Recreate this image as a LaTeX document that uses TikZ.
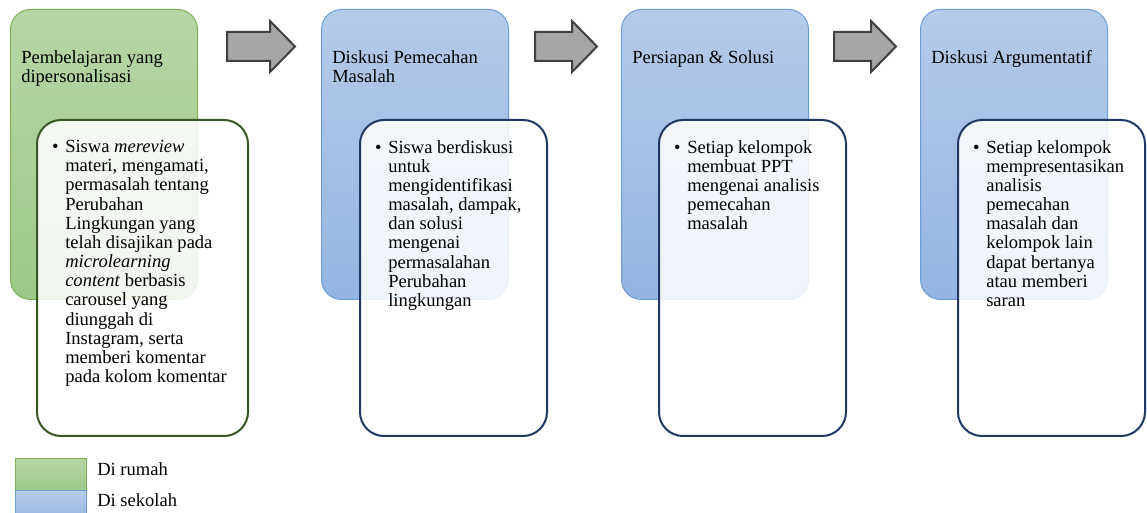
\documentclass[tikz,border=0pt]{standalone}
\usepackage{fontspec}
\setmainfont{Liberation Serif}
\usepackage{xcolor}
\usepackage{tikz}
\usetikzlibrary{positioning}

\definecolor{homeTop}{RGB}{182,214,165}
\definecolor{homeBot}{RGB}{156,201,138}
\definecolor{homeLine}{RGB}{122,178,82}
\definecolor{homeDark}{RGB}{56,87,35}
\definecolor{schoolTop}{RGB}{180,203,233}
\definecolor{schoolBot}{RGB}{148,181,225}
\definecolor{schoolLine}{RGB}{108,157,214}
\definecolor{schoolDark}{RGB}{31,56,100}
\definecolor{arrowFill}{RGB}{166,166,166}
\definecolor{arrowLine}{RGB}{64,64,64}

\tikzset{
  stage/.style={rounded corners=15pt, minimum width=140.25pt, minimum height=217.5pt, anchor=north west, inner sep=0pt, line width=0.75pt},
  home/.style={stage, draw=homeLine, top color=homeTop, bottom color=homeBot},
  school/.style={stage, draw=schoolLine, top color=schoolTop, bottom color=schoolBot},
  detail/.style={rounded corners=18pt, minimum width=140.25pt, minimum height=237pt, anchor=north west, inner sep=0pt, line width=1.5pt, fill=white, fill opacity=0.86},
  title/.style={anchor=north west, inner sep=0pt, align=left, font=\fontsize{13.9}{14.38}\selectfont},
  key/.style={anchor=north west, inner sep=0pt, minimum width=53.25pt, minimum height=24pt, line width=0.75pt},
}
\newcommand{\dotitem}{\llap{\textbullet\hspace{5pt}}}

\begin{document}
\begin{tikzpicture}[x=0.75pt, y=-0.75pt]
  \useasboundingbox (0,0) rectangle (1147,513);

  % arrows between the stages
  \foreach \x/\w/\h in {227/68/43, 535/62/37, 834/62/37}{%
    \draw[line width=1.5pt, draw=arrowLine, fill=arrowFill]
      (\x,32) -- (\x+\h,32) -- (\x+\h,21) -- (\x+\w,46.5) -- (\x+\h,72) -- (\x+\h,61) -- (\x,61) -- cycle;
  }

  % stage 1 (at home)
  \node[home] (s1) at (10,9) {};
  \node[title] (t1) at (21,50) {Pembelajaran yang\\dipersonalisasi};
  \node[detail, draw=homeDark, minimum width=158.25pt] (d1) at (36,119) {};
  \node[title] (i1) at (65,140) {\dotitem Siswa \emph{mereview}\\materi, mengamati,\\permasalah tentang\\Perubahan\\Lingkungan yang\\telah disajikan pada\\\emph{microlearning}\\\emph{content} berbasis\\carousel yang\\diunggah di\\Instagram, serta\\memberi komentar\\pada kolom komentar};

  % stage 2
  \node[school] (s2) at (321,9) {};
  \node[title] (t2) at (332,50) {Diskusi Pemecahan\\Masalah};
  \node[detail, draw=schoolDark] (d2) at (359,119) {};
  \node[title] (i2) at (388,140) {\dotitem Siswa berdiskusi\\untuk\\mengidentifikasi\\masalah, dampak,\\dan solusi\\mengenai\\permasalahan\\Perubahan\\lingkungan};

  % stage 3
  \node[school] (s3) at (621,9) {};
  \node[title] (t3) at (632,50) {Persiapan \& Solusi};
  \node[detail, draw=schoolDark] (d3) at (658,119) {};
  \node[title] (i3) at (687,140) {\dotitem Setiap kelompok\\membuat PPT\\mengenai analisis\\pemecahan\\masalah};

  % stage 4
  \node[school] (s4) at (920,9) {};
  \node[title] (t4) at (931,50) {Diskusi Argumentatif};
  \node[detail, draw=schoolDark] (d4) at (957,119) {};
  \node[title] (i4) at (986,140) {\dotitem Setiap kelompok\\mempresentasikan\\analisis\\pemecahan\\masalah dan\\kelompok lain\\dapat bertanya\\atau memberi\\saran};

  % legend
  \node[key, draw=homeLine, top color=homeTop, bottom color=homeBot] (k1) at (15,458) {};
  \node[key, draw=schoolLine, top color=schoolTop, bottom color=schoolBot] (k2) at (15,490) {};
  \node[title, anchor=base west] (l1) at (97,475) {Di rumah};
  \node[title, anchor=base west] (l2) at (97,507) {Di sekolah};
\end{tikzpicture}
\end{document}
